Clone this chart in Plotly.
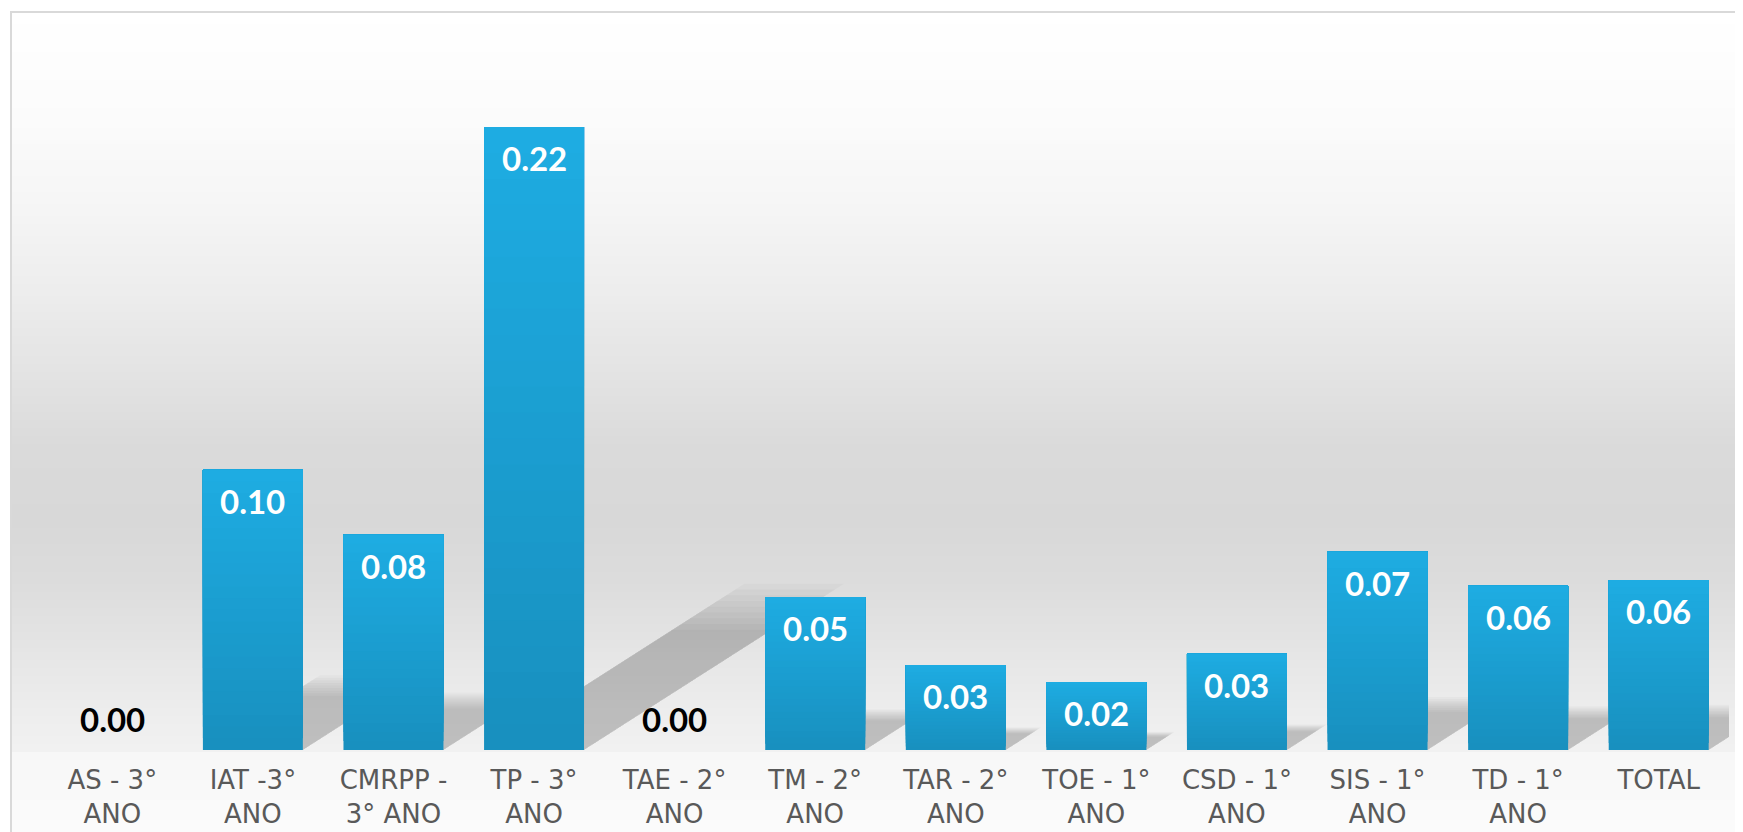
import plotly.graph_objects as go

# ---- data ----
categories = ["AS - 3° ANO", "IAT -3° ANO", "CMRPP - 3° ANO", "TP - 3° ANO",
              "TAE - 2° ANO", "TM - 2° ANO", "TAR - 2° ANO", "TOE - 1° ANO",
              "CSD - 1° ANO", "SIS - 1° ANO", "TD - 1° ANO", "TOTAL"]
tick_labels = ["AS - 3°<br>ANO", "IAT -3°<br>ANO", "CMRPP -<br>3° ANO", "TP - 3°<br>ANO",
               "TAE - 2°<br>ANO", "TM - 2°<br>ANO", "TAR - 2°<br>ANO", "TOE - 1°<br>ANO",
               "CSD - 1°<br>ANO", "SIS - 1°<br>ANO", "TD - 1°<br>ANO", "TOTAL"]
values = [0.0, 0.099, 0.076, 0.22, 0.0, 0.054, 0.030, 0.024, 0.034, 0.070, 0.058, 0.060]

# ---- layout constants ----
W, H = 1743, 832
OFF = 8  # page body margin
ML, MR, MT, MB = 34, 22, 34, 90
PW, PH = W - ML - MR, H - MT - MB
BARGAP = 0.289


def px_to_paper_x(px):
    return (px - OFF - ML) / PW


def px_to_paper_y(py):
    return (H - MB - (py - OFF)) / PH


# background gradient stops (screen pixel y, grey level)
grad_stops = [(12, 255), (120, 251), (200, 246), (300, 236), (400, 224), (450, 218),
              (520, 216), (580, 220), (650, 229), (720, 238), (750, 241),
              (751, 247), (790, 249), (832, 251)]


def grey_at(py):
    for (y0, g0), (y1, g1) in zip(grad_stops[:-1], grad_stops[1:]):
        if y0 <= py <= y1:
            t = 0 if y1 == y0 else (py - y0) / (y1 - y0)
            return round(g0 + (g1 - g0) * t)
    return grad_stops[-1][1]


shapes = []
band = 4
for y in range(12, H + 8, band):
    g = grey_at(y + band / 2)
    shapes.append(dict(type="rect", xref="paper", yref="paper", layer="below",
                       x0=px_to_paper_x(11), x1=px_to_paper_x(W + 10),
                       y0=px_to_paper_y(y + band), y1=px_to_paper_y(y),
                       line=dict(width=0), fillcolor=f"rgb({g},{g},{g})"))

# soft perspective shadows cast by the bars (derived from the values)
half = (1 - BARGAP) / 2
SH_K = 0.23      # shadow height relative to bar value
SH_DX = 7.25     # horizontal shift (categories per unit of value)
blur_steps = [1.16, 1.12, 1.08, 1.04, 1.0, 0.96, 0.92, 0.88, 0.84]
for i, v in enumerate(values):
    if v <= 0:
        continue
    for kf in blur_steps:
        h = SH_K * v * kf
        dx = SH_DX * v * kf
        path = (f"M {i - half},0 L {i + half},0 L {i + half + dx},{h} "
                f"L {i - half + dx},{h} Z")
        shapes.append(dict(type="path", xref="x", yref="y", layer="below", path=path,
                           line=dict(width=0), fillcolor="rgba(0,0,0,0.024)"))

# frame
shapes.append(dict(type="rect", xref="paper", yref="paper", layer="below",
                   x0=px_to_paper_x(11), x1=px_to_paper_x(W + 30),
                   y0=px_to_paper_y(H + 30), y1=px_to_paper_y(12),
                   line=dict(color="#d9d9d9", width=2), fillcolor="rgba(0,0,0,0)"))

fig = go.Figure()
fig.add_trace(go.Bar(x=categories, y=values, marker=dict(color="#1890bf", line=dict(width=0)),
                     hoverinfo="x+y", name="valor"))

# vertical colour gradient inside each bar (lighter towards the top)
bottom_rgb = (24, 144, 191)
top_rgb = (30, 173, 227)
N = 24
for j in range(1, N):
    f = j / N
    col = tuple(round(b + (t - b) * f) for b, t in zip(bottom_rgb, top_rgb))
    fig.add_trace(go.Bar(x=categories, y=[v * (1 - f) for v in values],
                         base=[v * f for v in values],
                         marker=dict(color=f"rgb{col}", line=dict(width=0)),
                         hoverinfo="skip", showlegend=False))

annotations = []
for c, v in zip(categories, values):
    txt = f"{v:.2f}"
    if v > 0:
        annotations.append(dict(x=c, y=v, xref="x", yref="y", text=txt, showarrow=False,
                                yanchor="top", yshift=-9,
                                font=dict(family="Lato", size=33, color="white", weight="bold")))
    else:
        annotations.append(dict(x=c, y=0, xref="x", yref="y", text=txt, showarrow=False,
                                yanchor="bottom", yshift=9,
                                font=dict(family="Lato", size=33, color="black", weight="bold")))

fig.update_layout(
    width=W, height=H,
    margin=dict(l=ML, r=MR, t=MT, b=MB, autoexpand=False),
    paper_bgcolor="white", plot_bgcolor="rgba(0,0,0,0)",
    showlegend=False, bargap=BARGAP, barmode="overlay",
    shapes=shapes, annotations=annotations,
    xaxis=dict(tickmode="array", tickvals=categories, ticktext=tick_labels,
               range=[-0.5, len(categories) - 0.5], autorange=False,
               showgrid=False, zeroline=False, showline=False, ticks="",
               ticklabelstandoff=12,
               tickfont=dict(family="DejaVu Sans", size=26, color="#595959")),
    yaxis=dict(range=[0, 0.25], visible=False, showgrid=False, zeroline=False),
)

fig.write_html("out.html")
